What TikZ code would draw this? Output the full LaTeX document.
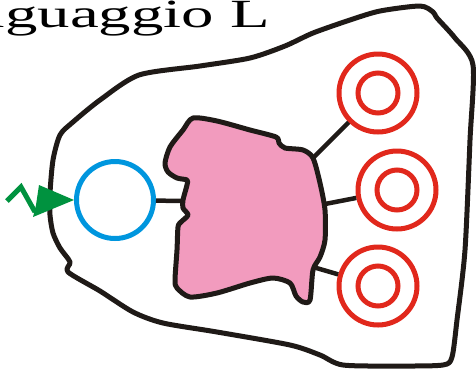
\documentclass[tikz,border=0pt]{standalone}
\usepackage{fontspec}
\usepackage{graphicx}
\setmainfont{Liberation Serif}
\definecolor{ink}{RGB}{31,26,23}
\definecolor{pinkfill}{RGB}{242,155,190}
\definecolor{ringred}{RGB}{225,40,28}
\definecolor{inblue}{RGB}{0,150,222}
\definecolor{boltgreen}{RGB}{0,146,63}
\tikzset{
  outline/.style={draw=ink,line width=5pt,line join=round},
  connector/.style={draw=ink,line width=4.5pt},
  target/.style={circle,draw=ringred,line width=5pt,minimum size=78pt,inner sep=0pt},
  inring/.style={draw=ringred,line width=5pt},
  inputport/.style={circle,draw=inblue,line width=5pt,minimum size=77pt,inner sep=0pt},
  bolt/.style={draw=boltgreen,line width=5pt,line join=miter},
  titletext/.style={font=\fontsize{40}{48}\selectfont,inner sep=0pt}
}
\begin{document}
\begin{tikzpicture}[x=1pt,y=-1pt]
\useasboundingbox (0,0) rectangle (476,373);
\clip (0,0) rectangle (476,373);
% title
\node[titletext,anchor=base east] (title) at (270,27) {\scalebox{1.62}[1]{Linguaggio L}};
% outer region
\draw[outline] plot[smooth cycle,tension=0.45] coordinates {
 (100,100) (139,75) (200,66) (250,58) (285,46) (313,33) (350,20) (380,11) (420,6)
 (433,12) (437,18) (455,38) (473,65) (470,140) (465,250) (457,320) (452,357) (443,365)
 (400,366) (343,365) (320,355) (290,345) (217,332) (163,323) (133,312) (100,291)
 (68,272) (70,262) (60,248) (53,233) (50,215) (50,193) (53,160) (60,135) (73,122)};
% central process blob
\draw[outline,fill=pinkfill] plot[smooth cycle,tension=0.45] coordinates {
 (193,118) (217,121) (250,130) (276,137) (279,143) (285,148) (303,150) (313,158)
 (320,183) (325,210) (325,240) (320,257) (313,270) (310,300) (303,302) (296,296)
 (290,283) (273,278) (250,283) (217,293) (190,297) (177,288) (175,280) (177,250)
 (178,227) (181,222) (188,215) (183,208) (183,200) (187,185) (187,180) (177,178)
 (168,172) (165,163) (170,147) (183,130)};
\coordinate (pL) at (183,201);
\coordinate (p1) at (313,158);
\coordinate (p2) at (325,204);
\coordinate (p3) at (313,267);
% input port
\node[inputport] (inp) at (115,200) {};
% targets
\node[target] (t1) at (378,93) {};
\node[target] (t2) at (397,190) {};
\node[target] (t3) at (378,286) {};
\draw[inring] (t1.center) circle (20);
\draw[inring] (t2.center) circle (20);
\draw[inring] (t3.center) circle (20);
% connectors
\draw[connector] (inp) -- (pL);
\draw[connector] (p1) -- (t1);
\draw[connector] (p2) -- (t2);
\draw[connector] (p3) -- (t3);
% green input bolt
\coordinate (tip) at (inp.west);
\fill[boltgreen] (39,185) -- (tip) -- (33,217) -- (36,205) -- cycle;
\draw[bolt] (7,201) -- (21,187) -- (35,212);
\end{tikzpicture}
\end{document}
